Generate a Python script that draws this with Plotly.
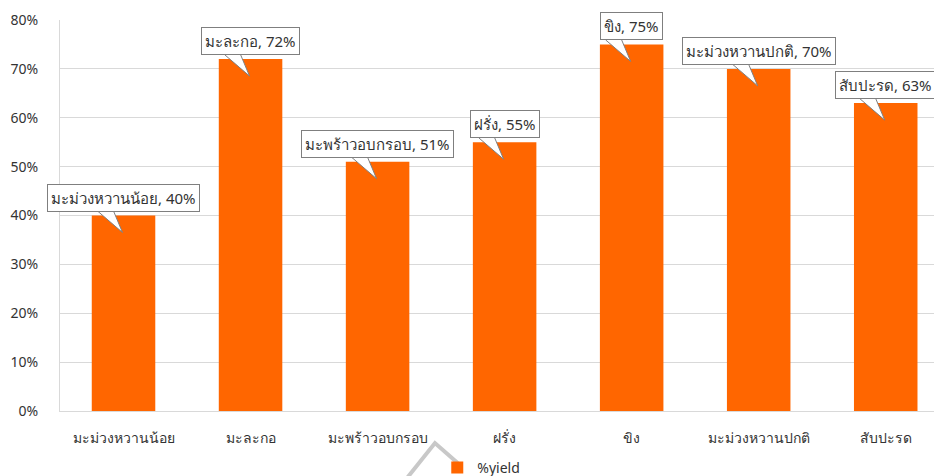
import plotly.graph_objects as go

categories = ["มะม่วงหวานน้อย", "มะละกอ", "มะพร้าวอบกรอบ", "ฝรั่ง", "ขิง", "มะม่วงหวานปกติ", "สับปะรด"]
yield_pct = [0.40, 0.72, 0.51, 0.55, 0.75, 0.70, 0.63]
series_name = "%yield"

BAR = "#FF6600"
TXT = "#333333"
FONT = "Noto Sans, sans-serif"

fig = go.Figure()
fig.add_trace(go.Bar(
    x=list(range(len(categories))), y=yield_pct, name=series_name,
    marker=dict(color=BAR, line=dict(width=0)), width=0.5,
    showlegend=True,
))

shapes = []
annotations = []
for i, (c, v) in enumerate(zip(categories, yield_pct)):
    # callout tail (pixel offsets relative to bar top)
    shapes.append(dict(
        type="path", xref="x", yref="y", xsizemode="pixel", ysizemode="pixel",
        xanchor=i, yanchor=v,
        path="M -26,4.5 L -1,-17 L -10,4.5",
        fillcolor="white", line=dict(color="#7f7f7f", width=1), layer="above",
    ))
    annotations.append(dict(
        x=i, y=v, xref="x", yref="y", text=f"{c}, {round(v*100)}%",
        showarrow=False, yanchor="bottom", xanchor="center", yshift=4,
        bgcolor="white", bordercolor="#7f7f7f", borderwidth=1, borderpad=3,
        font=dict(family=FONT, size=15, color=TXT),
    ))

# decorative gray stroke near the legend
shapes.append(dict(
    type="path", xref="paper", yref="paper",
    path="M 0.394,-0.18 L 0.429,-0.082 L 0.455,-0.133",
    line=dict(color="#c8c8c8", width=4), layer="above",
))

fig.update_layout(
    width=934, height=476,
    margin=dict(l=60, r=0, t=20, b=65),
    paper_bgcolor="white", plot_bgcolor="white",
    font=dict(family=FONT, size=14, color=TXT),
    bargap=0.5,
    xaxis=dict(
        tickmode="array", tickvals=list(range(len(categories))), ticktext=categories,
        range=[-0.5, 6.38], showgrid=False, zeroline=False, automargin=False,
        showline=True, linecolor="#d9d9d9", linewidth=1,
        ticks="", ticklabelstandoff=14, tickfont=dict(size=14, color=TXT),
    ),
    yaxis=dict(
        range=[0, 0.8], dtick=0.1, tickformat=".0%", automargin=False,
        showgrid=True, gridcolor="#d9d9d9", gridwidth=1,
        zeroline=False, showline=True, linecolor="#d9d9d9", linewidth=1,
        ticks="", ticklabelstandoff=18, tickfont=dict(size=14, color=TXT),
    ),
    legend=dict(orientation="h", x=0.482, xanchor="center",
                yref="container", y=0.017, yanchor="middle",
                bgcolor="rgba(0,0,0,0)",
                font=dict(size=14, color=TXT), itemwidth=30),
    shapes=shapes, annotations=annotations,
)

fig.write_html("out.html")
